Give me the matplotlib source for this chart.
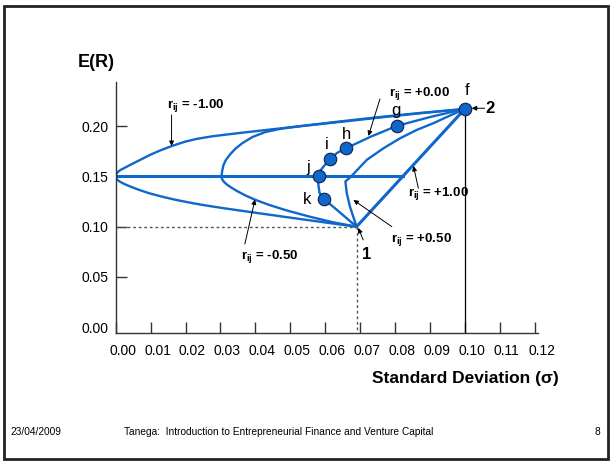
import matplotlib
matplotlib.use('Agg')
import matplotlib.pyplot as plt
from matplotlib.patches import Rectangle
from matplotlib.transforms import ScaledTranslation

plt.rcParams['font.family'] = ['Liberation Sans', 'DejaVu Sans']
plt.rcParams['mathtext.fontset'] = 'custom'
plt.rcParams['mathtext.rm'] = 'Liberation Sans'
plt.rcParams['mathtext.bf'] = 'Liberation Sans:bold'

BLUE = '#0f67c9'

# asset 1 and asset 2 (sigma, E(R))
sd_1, ret_1 = 0.069, 0.100
sd_2, ret_2 = 0.100, 0.217

# r = -1.00, from asset 2 round the vertex at sigma 0 to asset 1
sd_m100 = [0.100, 0.0872, 0.0757, 0.0643, 0.0528, 0.0470, 0.0413, 0.0380, 0.0328,
           0.0276, 0.0233, 0.0199, 0.0161, 0.0127, 0.0098, 0.0068, 0.0041, 0.0024,
           0.0012, 0.0006, 0.0002, 0.0,
           0.0002, 0.0006, 0.0012, 0.0024, 0.0041, 0.0068, 0.0098, 0.0134, 0.0170,
           0.0206, 0.0242, 0.0285, 0.0328, 0.0413, 0.0528, 0.0614, 0.069]
ret_m100 = [0.217, 0.2130, 0.2090, 0.2046, 0.1999, 0.1976, 0.1954, 0.1941, 0.1920,
            0.1898, 0.1873, 0.1845, 0.1802, 0.1757, 0.1713, 0.1660, 0.1613, 0.1582,
            0.1560, 0.1543, 0.1525, 0.150,
            0.1478, 0.1462, 0.1447, 0.1425, 0.1400, 0.1364, 0.1330, 0.1297, 0.1268,
            0.1243, 0.1220, 0.1196, 0.1174, 0.1132, 0.1076, 0.1035, 0.100]

# r = -0.50
sd_m050 = [0.100, 0.0872, 0.0757, 0.0643, 0.0528, 0.0471, 0.0428, 0.0391, 0.0362,
           0.0343, 0.0328, 0.0316, 0.0309, 0.0305, 0.0303,
           0.0305, 0.0310, 0.0318, 0.0330, 0.0347, 0.0370, 0.0399, 0.0442, 0.0491,
           0.0557, 0.0623, 0.069]
ret_m050 = [0.217, 0.2127, 0.2085, 0.2041, 0.1998, 0.1972, 0.1940, 0.1890, 0.1828,
            0.1775, 0.1720, 0.1665, 0.1615, 0.1554, 0.150,
            0.1470, 0.1445, 0.1420, 0.1391, 0.1355, 0.1313, 0.1268, 0.1213, 0.1160,
            0.1098, 0.1043, 0.100]

# r = +0.00
sd_p000 = [0.100, 0.0901, 0.0805, 0.0729, 0.0660, 0.0634, 0.0614, 0.0595, 0.0586,
           0.0581, 0.0580, 0.0584, 0.0598, 0.069]
ret_p000 = [0.217, 0.2090, 0.2001, 0.1892, 0.1779, 0.1733, 0.1670, 0.1596, 0.1555,
            0.1499, 0.1434, 0.1335, 0.1272, 0.100]

# r = +0.50 (drawn with a small hook)
sd_p050 = [0.100, 0.0958, 0.0910, 0.0862, 0.0815, 0.0767, 0.0719, 0.0700, 0.0674,
           0.0658, 0.0662, 0.0671, 0.069]
ret_p050 = [0.217, 0.2105, 0.2028, 0.1961, 0.1879, 0.1779, 0.1663, 0.1593, 0.1497,
            0.1449, 0.1332, 0.1199, 0.100]

# r = +1.00
sd_p100 = [sd_1, sd_2]
ret_p100 = [ret_1, ret_2]

# horizontal line at E(R) = 0.15
sd_flat = [0.0, 0.0823]
ret_flat = [0.150, 0.150]

# labelled portfolios on the r = 0 curve
pt_names = ['f', 'g', 'h', 'i', 'j', 'k']
pt_sd = [0.100, 0.0805, 0.0660, 0.0614, 0.0581, 0.0598]
pt_ret = [0.217, 0.200, 0.178, 0.167, 0.150, 0.127]

x_ticks = [0.00, 0.01, 0.02, 0.03, 0.04, 0.05, 0.06, 0.07, 0.08, 0.09, 0.10, 0.11, 0.12]
y_ticks = [0.00, 0.05, 0.10, 0.15, 0.20]

fig = plt.figure(figsize=(6.1, 4.61), dpi=100)
ax = fig.add_axes([0.1897, 0.2777, 0.6918, 0.5451])

for sd, ret in [(sd_m100, ret_m100), (sd_m050, ret_m050), (sd_p000, ret_p000),
                (sd_p050, ret_p050)]:
    ax.plot(sd, ret, color=BLUE, lw=1.7, solid_joinstyle='round')
ax.plot(sd_p100, ret_p100, color=BLUE, lw=2.2)
ax.plot(sd_flat, ret_flat, color=BLUE, lw=2.2)

# guide lines to asset 1 and asset 2
ax.plot([0, sd_1], [ret_1, ret_1], color='#555555', lw=1, ls=(0, (2, 2)))
ax.plot([sd_1, sd_1], [ret_1, -0.006], color='#555555', lw=1, ls=(0, (2, 2)))
ax.plot([sd_2, sd_2], [ret_2, -0.006], color='black', lw=0.9)

ax.plot(pt_sd, pt_ret, 'o', ms=9, mfc=BLUE, mec='#10204a', mew=0.8, zorder=5)

lab_pos = {'f': (0.1006, 0.2352), 'g': (0.0803, 0.2153), 'h': (0.0660, 0.1912),
           'i': (0.0605, 0.1812), 'j': (0.0552, 0.1590), 'k': (0.0549, 0.1265)}
for n in pt_names:
    ax.text(*lab_pos[n], n, fontsize=12, ha='center', va='center')

arr = dict(arrowstyle='-|>', lw=0.7, color='black', mutation_scale=7,
           shrinkA=0, shrinkB=0)


def rlabel(txt, xy, tip, start):
    ax.text(xy[0], xy[1], r'r$_{\mathbf{ij}}$ = ' + txt, fontsize=9.5,
            fontweight='bold', ha='center', va='center')
    ax.annotate('', xy=tip, xytext=start, arrowprops=arr)


rlabel('-1.00', (0.0230, 0.2207), (0.0160, 0.1802), (0.0160, 0.2110))
rlabel('-0.50', (0.0442, 0.0699), (0.0399, 0.1270), (0.0370, 0.0828))
rlabel('+0.00', (0.0870, 0.2326), (0.0724, 0.1902), (0.0757, 0.2269))
rlabel('+1.00', (0.0925, 0.1332), (0.0853, 0.1603), (0.0867, 0.1382))
rlabel('+0.50', (0.0876, 0.0868), (0.0681, 0.1265), (0.0791, 0.1000))

ax.text(0.0719, 0.0719, '1', fontsize=12, fontweight='bold', ha='center', va='center')
ax.annotate('', xy=(0.0695, 0.0987), xytext=(0.0709, 0.0868), arrowprops=arr)
ax.text(0.1072, 0.2177, '2', fontsize=12, fontweight='bold', ha='center', va='center')
ax.annotate('', xy=(0.1020, 0.2177), xytext=(0.1057, 0.2177), arrowprops=arr)

ax.set_xlim(0, 0.1209)
ax.set_ylim(-0.0057, 0.2441)
ax.spines['top'].set_visible(False)
ax.spines['right'].set_visible(False)
for s in ['left', 'bottom']:
    ax.spines[s].set_color('#333333')
    ax.spines[s].set_linewidth(1)

ax.set_xticks(x_ticks)
ax.set_xticklabels(['%.2f' % v for v in x_ticks])
ax.set_yticks(y_ticks)
ax.set_yticklabels(['%.2f' % v for v in y_ticks])
ax.tick_params(axis='both', direction='in', length=8, width=1, color='#333333',
               labelsize=10)
ax.tick_params(axis='x', pad=8)
ax.tick_params(axis='y', pad=5)
ax.yaxis.get_major_ticks()[0].tick1line.set_visible(False)
shift = ScaledTranslation(0.07, 0, fig.dpi_scale_trans)
for lab in ax.get_xticklabels():
    lab.set_transform(lab.get_transform() + shift)

fig.text(96.5 / 610, 1 - 62 / 461, 'E(R)', fontsize=13, fontweight='bold',
         ha='center', va='center')
fig.text(465 / 610, 1 - 378 / 461, 'Standard Deviation (σ)', fontsize=12.5,
         fontweight='bold', ha='center', va='center')

# slide footer and frame
fig.text(10 / 610, 1 - 432 / 461, '23/04/2009', fontsize=7.3, ha='left', va='center')
fig.text(279 / 610, 1 - 432 / 461,
         'Tanega:  Introduction to Entrepreneurial Finance and Venture Capital',
         fontsize=7.3, ha='center', va='center')
fig.text(600 / 610, 1 - 432 / 461, '8', fontsize=7.3, ha='right', va='center')
fig.patches.append(Rectangle((4 / 610, 2 / 461), 604 / 610, 453 / 461,
                             transform=fig.transFigure, fill=False,
                             edgecolor='#222222', lw=2))

fig.savefig('out.png', dpi=100)
